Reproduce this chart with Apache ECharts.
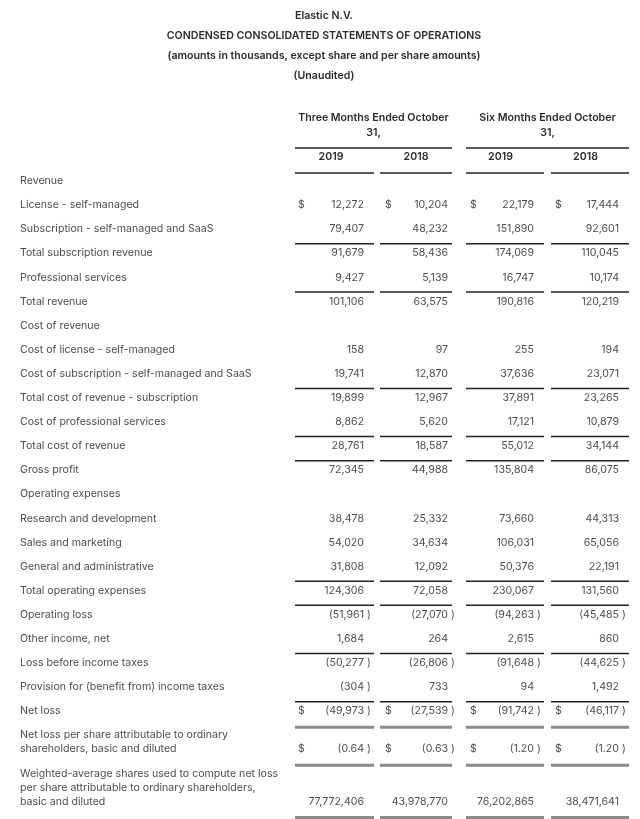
<!DOCTYPE html>
<html>
<head>
<meta charset="utf-8">
<title>Elastic N.V. - statements of operations</title>
<style>
  html, body { margin: 0; padding: 0; background: #fff; }
  #chart { width: 640px; height: 819px; }
</style>
<script src="https://cdn.jsdelivr.net/npm/echarts@6/dist/echarts.min.js"></script>
</head>
<body>
<div id="chart"></div>
<script>
// header texts
const titleLines = [
  'Elastic N.V.',
  'CONDENSED CONSOLIDATED STATEMENTS OF OPERATIONS',
  '(amounts in thousands, except share and per share amounts)',
  '(Unaudited)'
]
const periods = ['Three Months Ended October\n31,', 'Six Months Ended October\n31,']
const years = ['2019', '2018', '2019', '2018']

// row labels (null value = section heading)
const rowLabels = [
  'Revenue',
  'License - self-managed',
  'Subscription - self-managed and SaaS',
  'Total subscription revenue',
  'Professional services',
  'Total revenue',
  'Cost of revenue',
  'Cost of license - self-managed',
  'Cost of subscription - self-managed and SaaS',
  'Total cost of revenue - subscription',
  'Cost of professional services',
  'Total cost of revenue',
  'Gross profit',
  'Operating expenses',
  'Research and development',
  'Sales and marketing',
  'General and administrative',
  'Total operating expenses',
  'Operating loss',
  'Other income, net',
  'Loss before income taxes',
  'Provision for (benefit from) income taxes',
  'Net loss',
  'Net loss per share attributable to ordinary\nshareholders, basic and diluted',
  'Weighted-average shares used to compute net loss\nper share attributable to ordinary shareholders,\nbasic and diluted'
]

const threeMonths2019 = [null, 12272, 79407, 91679, 9427, 101106, null, 158, 19741, 19899, 8862, 28761, 72345,
  null, 38478, 54020, 31808, 124306, -51961, 1684, -50277, -304, -49973, -0.64, 77772406]
const threeMonths2018 = [null, 10204, 48232, 58436, 5139, 63575, null, 97, 12870, 12967, 5620, 18587, 44988,
  null, 25332, 34634, 12092, 72058, -27070, 264, -26806, 733, -27539, -0.63, 43978770]
const sixMonths2019 = [null, 22179, 151890, 174069, 16747, 190816, null, 255, 37636, 37891, 17121, 55012, 135804,
  null, 73660, 106031, 50376, 230067, -94263, 2615, -91648, 94, -91742, -1.20, 76202865]
const sixMonths2018 = [null, 17444, 92601, 110045, 10174, 120219, null, 194, 23071, 23265, 10879, 34144, 86075,
  null, 44313, 65056, 22191, 131560, -45485, 860, -44625, 1492, -46117, -1.20, 38471641]

const dollarRows = [1, 22, 23]
const ruleAboveRows = [3, 5, 9, 11, 12, 17, 18, 20, 22]
const doubleRuleRows = [22, 23, 24]
const perShareRows = [23]

// ---- layout ----
const columns = [threeMonths2019, threeMonths2018, sixMonths2019, sixMonths2018]
const colLayout = [
  { l: 295, r: 374, dollar: 298, num: 364, head: 331 },
  { l: 380, r: 452, dollar: 385, num: 448, head: 416 },
  { l: 466, r: 544, dollar: 470, num: 534, head: 500.5 },
  { l: 551, r: 629, dollar: 555, num: 619, head: 585.5 }
]
const groupLayout = [{ l: 295, r: 452 }, { l: 466, r: 629 }]
const labelX = 20
const rowStep = 24.1
const lineGap = 14
const textColor = '#4d4d4d'
const headColor = '#2b2b2b'
const bodyFont = '10.6px Inter'
const headFont = '600 10.6px Inter'

// row y positions (first and last text line of each row)
const rowFirst = []
const rowLast = []
rowLabels.forEach((label, i) => {
  const n = label.split('\n').length
  rowFirst[i] = i === 0 ? 181 : rowLast[i - 1] + rowStep
  rowLast[i] = rowFirst[i] + (n - 1) * lineGap
})

const fmt = (v, dec) => {
  const s = Math.abs(v).toLocaleString('en-US', { minimumFractionDigits: dec, maximumFractionDigits: dec })
  return v < 0 ? '(' + s : s
}

const txt = (api, x, y, text, align, font, fill) => {
  const p = api.coord([x, y])
  return {
    type: 'text',
    x: p[0],
    y: p[1],
    style: {
      text: text,
      font: font || bodyFont,
      fill: fill || textColor,
      align: align,
      textAlign: align,
      verticalAlign: 'middle',
      textVerticalAlign: 'middle',
      lineHeight: lineGap
    }
  }
}

const rule = (api, x1, x2, y, w, color) => {
  const a = api.coord([x1, y])
  const b = api.coord([x2, y])
  return {
    type: 'line',
    shape: { x1: a[0], y1: a[1], x2: b[0], y2: b[1] },
    style: { stroke: color, lineWidth: w }
  }
}

// 表头
const renderHeader = (params, api) => {
  const children = []
  titleLines.forEach((t, i) => {
    children.push(txt(api, 324, 16 + i * 20, t, 'center', headFont, headColor))
  })
  periods.forEach((p, g) => {
    const c = (groupLayout[g].l + groupLayout[g].r) / 2
    p.split('\n').forEach((line, k) => {
      children.push(txt(api, c, 118 + k * 15, line, 'center', headFont, headColor))
    })
    children.push(rule(api, groupLayout[g].l, groupLayout[g].r, 148, 1.5, '#222'))
  })
  years.forEach((yr, c) => {
    children.push(txt(api, colLayout[c].head, 157, yr, 'center', headFont, headColor))
    children.push(rule(api, colLayout[c].l, colLayout[c].r, 173, 1.5, '#222'))
  })
  return { type: 'group', children: children }
}

// 表体: one data item per row
const renderRow = (params, api) => {
  const i = params.dataIndex
  const children = []
  rowLabels[i].split('\n').forEach((line, k) => {
    children.push(txt(api, labelX, rowFirst[i] + k * lineGap, line, 'left'))
  })
  const yv = rowLast[i]
  const dec = perShareRows.includes(i) ? 2 : 0
  columns.forEach((col, c) => {
    const v = col[i]
    const lay = colLayout[c]
    if (v === null || v === undefined) return
    children.push(txt(api, lay.num, yv, fmt(v, dec), 'right'))
    if (v < 0) children.push(txt(api, lay.num + 3, yv, ')', 'left'))
    if (dollarRows.includes(i)) children.push(txt(api, lay.dollar, yv, '$', 'left'))
    if (ruleAboveRows.includes(i)) children.push(rule(api, lay.l, lay.r, rowFirst[i] - 9.5, 1.5, '#222'))
    if (doubleRuleRows.includes(i)) children.push(rule(api, lay.l, lay.r, yv + 16, 3, '#8a8a8a'))
  })
  return { type: 'group', children: children }
}

const chart = echarts.init(document.getElementById('chart'))
chart.setOption({
  animation: false,
  grid: { left: 0, right: 0, top: 0, bottom: 0 },
  xAxis: { type: 'value', min: 0, max: 640, show: false },
  yAxis: { type: 'value', min: 0, max: 819, inverse: true, show: false },
  series: [
    {
      type: 'custom',
      name: 'header',
      silent: true,
      clip: false,
      renderItem: renderHeader,
      data: [[0, 0]]
    },
    {
      type: 'custom',
      name: 'rows',
      silent: true,
      clip: false,
      renderItem: renderRow,
      data: rowLabels.map((_, i) => [0, i])
    }
  ]
})
window.addEventListener('resize', () => chart.resize())
</script>
</body>
</html>
